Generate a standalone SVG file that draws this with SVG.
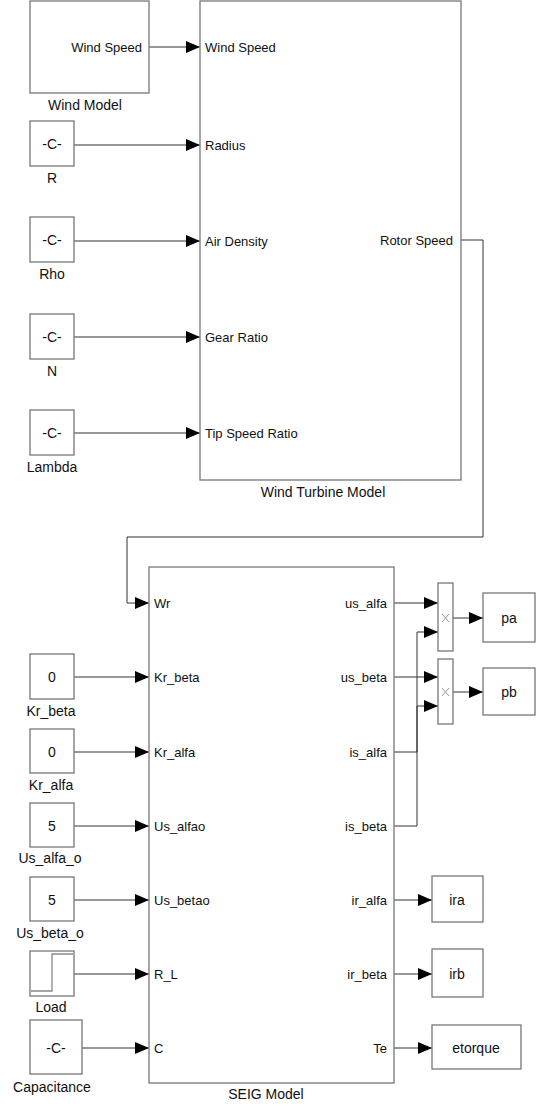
<svg xmlns="http://www.w3.org/2000/svg" width="538" height="1105" viewBox="0 0 538 1105">
<style>
.b{fill:#fff;stroke:#777;stroke-width:1.3}
.c{fill:none;stroke:#333;stroke-width:1}
text{font-family:"Liberation Sans",Arial,sans-serif;fill:#111}
.p{font-size:13px}
.n{font-size:14px;text-anchor:middle}
.v{font-size:14px;text-anchor:middle}
.r{text-anchor:end}
</style>
<defs>
<marker id="a" viewBox="0 0 14 12" refX="14" refY="6" markerWidth="14" markerHeight="12" markerUnits="userSpaceOnUse" orient="auto">
<path d="M0 0L14 6L0 12Z" fill="#000"/>
</marker>
</defs>
<g id="connectors">
<path class="c" d="M149 47H200" marker-end="url(#a)"/>
<path class="c" d="M74 145H200" marker-end="url(#a)"/>
<path class="c" d="M74 241H200" marker-end="url(#a)"/>
<path class="c" d="M74 337H200" marker-end="url(#a)"/>
<path class="c" d="M74 433H200" marker-end="url(#a)"/>
<path class="c" d="M461 240H483V537H127V603H149" marker-end="url(#a)"/>
<path class="c" d="M74 677H149" marker-end="url(#a)"/>
<path class="c" d="M74 752H149" marker-end="url(#a)"/>
<path class="c" d="M74 826H149" marker-end="url(#a)"/>
<path class="c" d="M74 900H149" marker-end="url(#a)"/>
<path class="c" d="M74 974H149" marker-end="url(#a)"/>
<path class="c" d="M82 1048H149" marker-end="url(#a)"/>
<path class="c" d="M394 603H438" marker-end="url(#a)"/>
<path class="c" d="M394 677H438" marker-end="url(#a)"/>
<path class="c" d="M394 752H417V632H438" marker-end="url(#a)"/>
<path class="c" d="M394 826H417V706H438" marker-end="url(#a)"/>
<path class="c" d="M453 618H483" marker-end="url(#a)"/>
<path class="c" d="M453 692H483" marker-end="url(#a)"/>
<path class="c" d="M394 900H432" marker-end="url(#a)"/>
<path class="c" d="M394 974H432" marker-end="url(#a)"/>
<path class="c" d="M394 1048H432" marker-end="url(#a)"/>
</g>
<g id="wind-model">
<rect class="b" x="30" y="1" width="119" height="92"/>
<text class="p r" x="142" y="52">Wind Speed</text>
<text class="n" x="85" y="110">Wind Model</text>
</g>
<g id="wind-turbine">
<rect class="b" x="200" y="1" width="261" height="479"/>
<text class="p" x="205" y="52">Wind Speed</text>
<text class="p" x="205" y="150">Radius</text>
<text class="p" x="205" y="246">Air Density</text>
<text class="p" x="205" y="342">Gear Ratio</text>
<text class="p" x="205" y="438">Tip Speed Ratio</text>
<text class="p r" x="453" y="245">Rotor Speed</text>
<text class="n" x="323" y="497">Wind Turbine Model</text>
</g>
<g id="R">
<rect class="b" x="30" y="121" width="44" height="45"/>
<text class="v" x="52" y="149">-C-</text>
<text class="n" x="52" y="183">R</text>
</g>
<g id="Rho">
<rect class="b" x="30" y="217" width="44" height="45"/>
<text class="v" x="52" y="245">-C-</text>
<text class="n" x="52" y="279">Rho</text>
</g>
<g id="N">
<rect class="b" x="30" y="314" width="44" height="45"/>
<text class="v" x="52" y="342">-C-</text>
<text class="n" x="52" y="376">N</text>
</g>
<g id="Lambda">
<rect class="b" x="30" y="410" width="44" height="45"/>
<text class="v" x="52" y="438">-C-</text>
<text class="n" x="52" y="472">Lambda</text>
</g>
<g id="seig">
<rect class="b" x="149" y="567" width="245" height="516"/>
<text class="p" x="154" y="608">Wr</text>
<text class="p" x="154" y="682">Kr_beta</text>
<text class="p" x="154" y="757">Kr_alfa</text>
<text class="p" x="154" y="831">Us_alfao</text>
<text class="p" x="154" y="905">Us_betao</text>
<text class="p" x="154" y="979">R_L</text>
<text class="p" x="154" y="1053">C</text>
<text class="p r" x="387" y="608">us_alfa</text>
<text class="p r" x="387" y="682">us_beta</text>
<text class="p r" x="387" y="757">is_alfa</text>
<text class="p r" x="387" y="831">is_beta</text>
<text class="p r" x="387" y="905">ir_alfa</text>
<text class="p r" x="387" y="979">ir_beta</text>
<text class="p r" x="387" y="1053">Te</text>
<text class="n" x="266" y="1099">SEIG Model</text>
</g>
<g id="Kr_beta">
<rect class="b" x="30" y="654" width="44" height="45"/>
<text class="v" x="52" y="682">0</text>
<text class="n" x="51" y="716">Kr_beta</text>
</g>
<g id="Kr_alfa">
<rect class="b" x="30" y="729" width="44" height="44"/>
<text class="v" x="52" y="757">0</text>
<text class="n" x="51" y="790">Kr_alfa</text>
</g>
<g id="Us_alfa_o">
<rect class="b" x="30" y="803" width="44" height="44"/>
<text class="v" x="52" y="831">5</text>
<text class="n" x="50" y="863">Us_alfa_o</text>
</g>
<g id="Us_beta_o">
<rect class="b" x="30" y="877" width="44" height="44"/>
<text class="v" x="52" y="905">5</text>
<text class="n" x="50" y="938">Us_beta_o</text>
</g>
<g id="Load">
<rect class="b" x="30" y="951" width="44" height="45"/>
<path d="M31 991H52V954H73" fill="none" stroke="#888" stroke-width="1.3"/>
<text class="n" x="51" y="1012">Load</text>
</g>
<g id="Capacitance">
<rect class="b" x="30" y="1020" width="52" height="54"/>
<text class="v" x="56" y="1053">-C-</text>
<text class="n" x="52" y="1092">Capacitance</text>
</g>
<g id="product1">
<rect class="b" x="438" y="583" width="15" height="68"/>
<path d="M442 614L449 622M449 614L442 622" stroke="#999" stroke-width="1"/>
</g>
<g id="product2">
<rect class="b" x="438" y="659" width="15" height="65"/>
<path d="M442 688L449 696M449 688L442 696" stroke="#999" stroke-width="1"/>
</g>
<g id="pa">
<rect class="b" x="483" y="593" width="52" height="49"/>
<text class="v" x="509" y="623">pa</text>
</g>
<g id="pb">
<rect class="b" x="483" y="668" width="52" height="47"/>
<text class="v" x="509" y="697">pb</text>
</g>
<g id="ira">
<rect class="b" x="432" y="876" width="51" height="46"/>
<text class="v" x="457" y="905">ira</text>
</g>
<g id="irb">
<rect class="b" x="432" y="949" width="51" height="48"/>
<text class="v" x="457" y="979">irb</text>
</g>
<g id="etorque">
<rect class="b" x="432" y="1025" width="89" height="44"/>
<text class="v" x="476" y="1053">etorque</text>
</g>
</svg>
